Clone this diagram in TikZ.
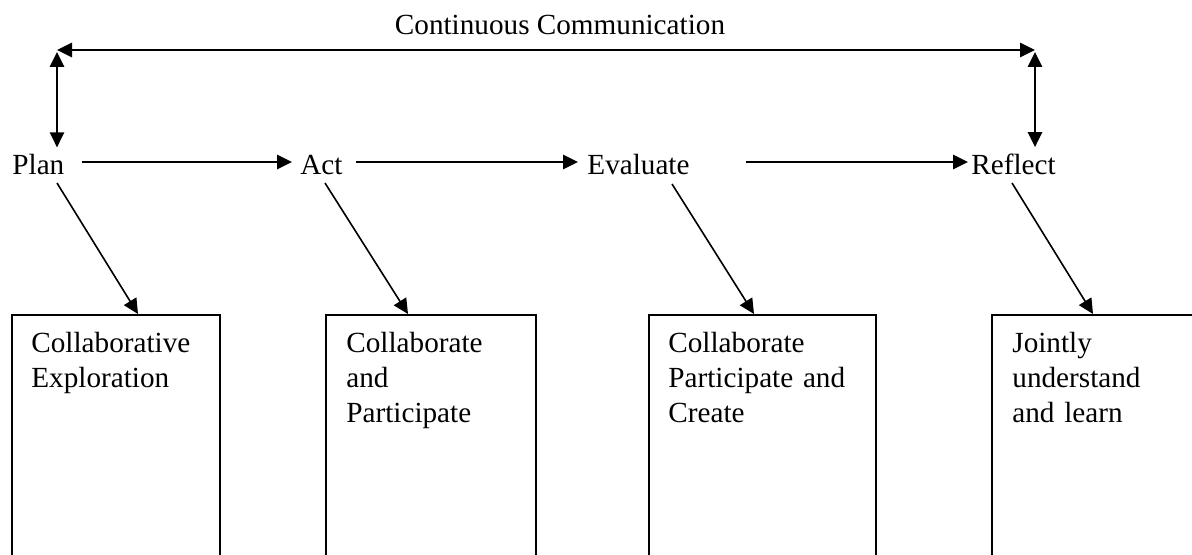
\documentclass[tikz,border=0pt]{standalone}
\usepackage{fontspec}
\setmainfont{Liberation Serif}
\usetikzlibrary{arrows.meta}
\begin{document}
\begin{tikzpicture}[x=0.5pt,y=-0.5pt,
  every node/.style={font=\fontsize{14.6}{17.5}\selectfont, inner sep=0pt},
  tip/.style={Triangle[length=7.5pt,width=7.2pt]},
  arr/.style={line width=0.8pt, -{Triangle[length=7.5pt,width=7.2pt]}},
  darr/.style={line width=0.8pt, {Triangle[length=7.5pt,width=7.2pt]}-{Triangle[length=7.5pt,width=7.2pt]}},
  stage/.style={anchor=base west},
  box/.style={draw, line width=0.8pt, anchor=north west, minimum height=130pt},
  boxtext/.style={anchor=base west, align=left, text width=#1}
]
\useasboundingbox (0,0) rectangle (1192,555);
\clip (0,0) rectangle (1192,555);

% title and the communication bar
\node[anchor=base] (cc) at (560,35) {Continuous Communication};
\coordinate (cl) at (57,50);
\coordinate (cr) at (1035,50);

% the four stages
\node[stage] (plan) at (12,175) {Plan};
\node[stage] (act) at (300,175) {Act};
\node[stage] (eval) at (587,175) {Evaluate};
\node[stage] (refl) at (971,175) {Reflect};

% boxes below the stages
\node[box, minimum width=104pt] (b1) at (11,314) {};
\node[box, minimum width=105pt] (b2) at (325,314) {};
\node[box, minimum width=113.5pt] (b3) at (648,314) {};
\node[box, minimum width=105pt] (b4) at (991,314) {};

\node[boxtext=92pt] (t1) at ([xshift=10pt,yshift=-19pt]b1.north west) {Collaborative\\Exploration};
\node[boxtext=92pt] (t2) at ([xshift=10.5pt,yshift=-19pt]b2.north west) {Collaborate\\and\\Participate};
\node[boxtext=100pt] (t3) at ([xshift=10pt,yshift=-19pt]b3.north west) {Collaborate\\Participate and\\Create};
\node[boxtext=92pt] (t4) at ([xshift=10.5pt,yshift=-19pt]b4.north west) {Jointly\\understand\\and learn};

% communication arrows
\draw[darr] (cl) -- (cr);
\draw[darr, shorten <=1pt, shorten >=3.5pt] (cl) -- (cl |- plan.north);
\draw[darr, shorten <=1pt, shorten >=3.5pt] (cr) -- (cr |- refl.north);

% stage sequence
\draw[arr] ([xshift=8.5pt,yshift=6.5pt]plan.base east) -- ([xshift=-4pt,yshift=6.5pt]act.base west);
\draw[arr] ([xshift=6.5pt,yshift=6.5pt]act.base east) -- ([xshift=-4.5pt,yshift=6.5pt]eval.base west);
\draw[arr] ([xshift=28pt,yshift=6.5pt]eval.base east) -- ([xshift=-1.5pt,yshift=6.5pt]refl.base west);

% stage to box
\draw[arr] ([xshift=22.5pt,yshift=-4pt]plan.base west) -- ([xshift=63.5pt]b1.north west);
\draw[arr] ([xshift=12.5pt,yshift=-4pt]act.base west) -- ([xshift=41.5pt]b2.north west);
\draw[arr] ([xshift=42.5pt,yshift=-4.5pt]eval.base west) -- ([xshift=53pt]b3.north west);
\draw[arr] ([xshift=20.5pt,yshift=-4pt]refl.base west) -- ([xshift=51pt]b4.north west);
\end{tikzpicture}
\end{document}
